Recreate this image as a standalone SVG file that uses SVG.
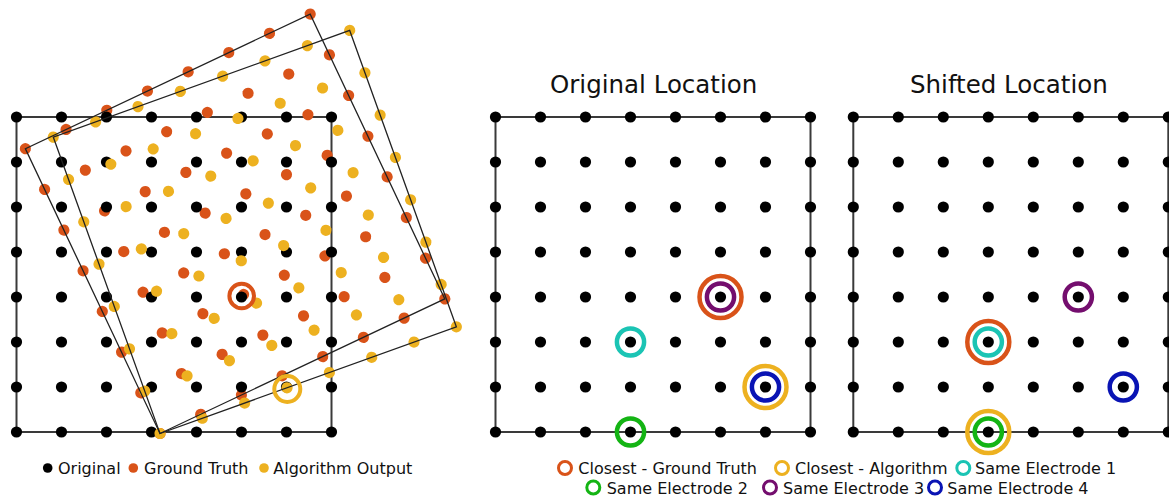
<svg xmlns="http://www.w3.org/2000/svg" xmlns:xlink="http://www.w3.org/1999/xlink" width="1169" height="498" viewBox="0 0 1169 498">
<style>
.frame{fill:none;stroke:#3a3a3a;stroke-width:2}
.rframe{fill:none;stroke:#222;stroke-width:1.3}
.ring{fill:none;stroke-width:4.5}
.lring{fill:none;stroke-width:3}
.title{font-family:"DejaVu Sans",Verdana,sans-serif;font-size:24.5px;fill:#111}
.leg{font-family:"DejaVu Sans",Verdana,sans-serif;font-size:16px;fill:#111}
.gt{stroke:#D95319}.al{stroke:#EDB120}.e1{stroke:#1BC4B4}.e2{stroke:#14B414}.e3{stroke:#740E6E}.e4{stroke:#0A14B4}
</style>
<defs>
<g id="dots">
<circle cx="0" cy="0" r="5.6"/><circle cx="45" cy="0" r="5.6"/><circle cx="90" cy="0" r="5.6"/><circle cx="135" cy="0" r="5.6"/><circle cx="180" cy="0" r="5.6"/><circle cx="225" cy="0" r="5.6"/><circle cx="270" cy="0" r="5.6"/><circle cx="315" cy="0" r="5.6"/>
<circle cx="0" cy="45" r="5.6"/><circle cx="45" cy="45" r="5.6"/><circle cx="90" cy="45" r="5.6"/><circle cx="135" cy="45" r="5.6"/><circle cx="180" cy="45" r="5.6"/><circle cx="225" cy="45" r="5.6"/><circle cx="270" cy="45" r="5.6"/><circle cx="315" cy="45" r="5.6"/>
<circle cx="0" cy="90" r="5.6"/><circle cx="45" cy="90" r="5.6"/><circle cx="90" cy="90" r="5.6"/><circle cx="135" cy="90" r="5.6"/><circle cx="180" cy="90" r="5.6"/><circle cx="225" cy="90" r="5.6"/><circle cx="270" cy="90" r="5.6"/><circle cx="315" cy="90" r="5.6"/>
<circle cx="0" cy="135" r="5.6"/><circle cx="45" cy="135" r="5.6"/><circle cx="90" cy="135" r="5.6"/><circle cx="135" cy="135" r="5.6"/><circle cx="180" cy="135" r="5.6"/><circle cx="225" cy="135" r="5.6"/><circle cx="270" cy="135" r="5.6"/><circle cx="315" cy="135" r="5.6"/>
<circle cx="0" cy="180" r="5.6"/><circle cx="45" cy="180" r="5.6"/><circle cx="90" cy="180" r="5.6"/><circle cx="135" cy="180" r="5.6"/><circle cx="180" cy="180" r="5.6"/><circle cx="225" cy="180" r="5.6"/><circle cx="270" cy="180" r="5.6"/><circle cx="315" cy="180" r="5.6"/>
<circle cx="0" cy="225" r="5.6"/><circle cx="45" cy="225" r="5.6"/><circle cx="90" cy="225" r="5.6"/><circle cx="135" cy="225" r="5.6"/><circle cx="180" cy="225" r="5.6"/><circle cx="225" cy="225" r="5.6"/><circle cx="270" cy="225" r="5.6"/><circle cx="315" cy="225" r="5.6"/>
<circle cx="0" cy="270" r="5.6"/><circle cx="45" cy="270" r="5.6"/><circle cx="90" cy="270" r="5.6"/><circle cx="135" cy="270" r="5.6"/><circle cx="180" cy="270" r="5.6"/><circle cx="225" cy="270" r="5.6"/><circle cx="270" cy="270" r="5.6"/><circle cx="315" cy="270" r="5.6"/>
<circle cx="0" cy="315" r="5.6"/><circle cx="45" cy="315" r="5.6"/><circle cx="90" cy="315" r="5.6"/><circle cx="135" cy="315" r="5.6"/><circle cx="180" cy="315" r="5.6"/><circle cx="225" cy="315" r="5.6"/><circle cx="270" cy="315" r="5.6"/><circle cx="315" cy="315" r="5.6"/>
</g>
</defs>
<rect width="1169" height="498" fill="#fff"/>

<g id="left-panel">
  <rect class="frame" x="16.5" y="117" width="315" height="315"/>
  <use href="#dots" xlink:href="#dots" fill="#D95319" transform="translate(160,433.5) rotate(-25.3) translate(0,-315)"/>
  <use href="#dots" xlink:href="#dots" fill="#000" transform="translate(16.5,117)"/>
  <use href="#dots" xlink:href="#dots" fill="#EDB120" transform="translate(160,433.5) rotate(-19.8) translate(0,-315)"/>
  <rect class="rframe" x="0" y="0" width="315" height="315" transform="translate(160,433.5) rotate(-25.3) translate(0,-315)"/>
  <rect class="rframe" x="0" y="0" width="315" height="315" transform="translate(160,433.5) rotate(-19.8) translate(0,-315)"/>
  <circle class="ring gt" cx="241.7" cy="296" r="12.3" style="stroke-width:4"/>
  <circle class="ring al" cx="287.3" cy="389" r="13" style="stroke-width:4"/>
</g>

<g id="left-legend">
  <circle cx="47.7" cy="468" r="4.8" fill="#000"/>
  <text class="leg" x="58" y="474">Original</text>
  <circle cx="133.3" cy="468" r="4.8" fill="#D95319"/>
  <text class="leg" x="144" y="474">Ground Truth</text>
  <circle cx="264" cy="468" r="4.8" fill="#EDB120"/>
  <text class="leg" x="273.3" y="474">Algorithm Output</text>
</g>

<g id="original-location">
  <text class="title" x="550" y="93">Original Location</text>
  <rect class="frame" x="495.5" y="117" width="315" height="315"/>
  <use href="#dots" xlink:href="#dots" fill="#000" transform="translate(495.5,117)"/>
  <circle class="ring gt" cx="720.5" cy="297" r="21"/>
  <circle class="ring e3" cx="720.5" cy="297" r="13.6"/>
  <circle class="ring e1" cx="630.5" cy="342" r="13.6"/>
  <circle class="ring al" cx="765.5" cy="387" r="21"/>
  <circle class="ring e4" cx="765.5" cy="387" r="13.6"/>
  <circle class="ring e2" cx="630.5" cy="432" r="13.6"/>
</g>

<g id="shifted-location">
  <text class="title" x="910" y="93">Shifted Location</text>
  <rect class="frame" x="853.3" y="117" width="315" height="315"/>
  <use href="#dots" xlink:href="#dots" fill="#000" transform="translate(853.3,117)"/>
  <circle class="ring e3" cx="1078.3" cy="297" r="13.6"/>
  <circle class="ring gt" cx="988.3" cy="342" r="21"/>
  <circle class="ring e1" cx="988.3" cy="342" r="13.6"/>
  <circle class="ring e4" cx="1123.3" cy="387" r="13.6"/>
  <circle class="ring al" cx="988.3" cy="432" r="21"/>
  <circle class="ring e2" cx="988.3" cy="432" r="13.6"/>
</g>

<g id="right-legend">
  <circle class="lring gt" cx="565" cy="468" r="6.5"/>
  <text class="leg" x="578.3" y="474">Closest - Ground Truth</text>
  <circle class="lring al" cx="782" cy="468" r="6.5"/>
  <text class="leg" x="795" y="474">Closest - Algorithm</text>
  <circle class="lring e1" cx="963.3" cy="468" r="6.5"/>
  <text class="leg" x="975" y="474">Same Electrode 1</text>
  <circle class="lring e2" cx="593.3" cy="487.5" r="6.5"/>
  <text class="leg" x="606.7" y="493.5">Same Electrode 2</text>
  <circle class="lring e3" cx="770" cy="487.5" r="6.5"/>
  <text class="leg" x="783" y="493.5">Same Electrode 3</text>
  <circle class="lring e4" cx="935" cy="487.5" r="6.5"/>
  <text class="leg" x="947.3" y="493.5">Same Electrode 4</text>
</g>
</svg>
